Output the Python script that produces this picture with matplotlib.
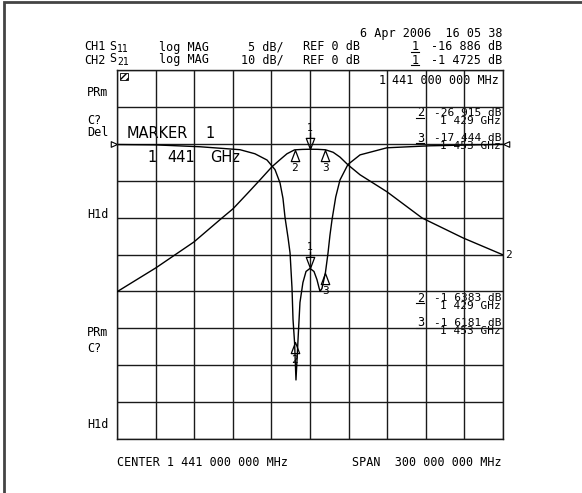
import matplotlib
matplotlib.use("Agg")
import matplotlib.pyplot as plt
import numpy as np
from matplotlib.path import Path
from matplotlib.patches import Rectangle

W, H = 582, 493

# instrument settings
f_center = 1.441   # GHz
f_span = 0.300     # GHz
s11_scale = 5      # dB/div
s21_scale = 10     # dB/div
ref_level = 0      # dB
ref_pos = 8        # reference line, divisions from bottom

# CH1: S11 (dB)
s11_freq = [1.291, 1.3213, 1.3555, 1.3866, 1.3982, 1.4076, 1.4138, 1.4177, 1.4200,
            1.4216, 1.4240, 1.4255, 1.4270, 1.4278, 1.4290, 1.4301, 1.4310, 1.4317,
            1.4332, 1.4355, 1.4379, 1.4410, 1.4441, 1.4464, 1.4480, 1.4488, 1.4503,
            1.4530, 1.4550, 1.4565, 1.4581, 1.4610, 1.4643, 1.4705, 1.4799, 1.5008,
            1.5343, 1.591]
s11_db = [-0.10, -0.15, -0.40, -0.80, -1.35, -2.2, -3.5, -5.3, -7.4,
          -10.0, -12.8, -14.8, -19.5, -23.8, -26.915, -32.0, -29.0, -26.5,
          -21.5, -18.8, -17.3, -16.886, -17.3, -18.4, -19.5, -20.0, -19.6,
          -17.444, -14.8, -12.4, -10.3, -7.2, -4.9, -2.8, -1.5, -0.54,
          -0.27, -0.07]

# CH2: S21 (dB)
s21_freq = [1.291, 1.3213, 1.3508, 1.3726, 1.3812, 1.3928, 1.4021, 1.4115, 1.4177,
            1.4231, 1.4290, 1.4350, 1.4410, 1.4470, 1.4530, 1.4590, 1.4643, 1.4705,
            1.4799, 1.5008, 1.5281, 1.5599, 1.591]
s21_db = [-40.1, -33.6, -26.6, -20.1, -17.6, -13.3, -9.8, -6.2, -4.3,
          -2.7, -1.6383, -1.52, -1.4725, -1.50, -1.6181, -2.3, -3.6, -5.7,
          -8.4, -13.0, -20.1, -25.5, -30.1]

# markers
marker_freq = [1.441, 1.429, 1.453]
marker_s11 = [-16.886, -26.915, -17.444]
marker_s21 = [-1.4725, -1.6383, -1.6181]

left_labels = [("PRm", 92), ("C?", 121), ("Del", 133), ("H1d", 214),
               ("PRm", 333), ("C?", 349), ("H1d", 424)]

MONO = "DejaVu Sans Mono"
plt.rcParams["font.family"] = MONO


def hp(v, nd):
    # HP plotter prints the decimal point as a blank
    return f"{v:.{nd}f}".replace(".", " ")


def grouped(v):
    return f"{v:,.0f}".replace(",", " ")


fig = plt.figure(figsize=(W / 100, H / 100), dpi=100)
bg = fig.add_axes([0, 0, 1, 1], zorder=0)
bg.set_xlim(0, W)
bg.set_ylim(H, 0)
bg.axis("off")

# page frame (left and top edges)
bg.plot([4, 4, W], [H, 2, 2], color="#444444", lw=2, solid_joinstyle="miter")

# graticule: 10 x 10 divisions
gx0, gx1, gy0, gy1 = 117, 503, 70, 439
ax = fig.add_axes([gx0 / W, 1 - gy1 / H, (gx1 - gx0) / W, (gy1 - gy0) / H], zorder=2)
ax.patch.set_alpha(0)
fmin, fmax = f_center - f_span / 2, f_center + f_span / 2
ax.set_xlim(fmin, fmax)
ax.set_ylim(ref_level - ref_pos * s11_scale, ref_level + (10 - ref_pos) * s11_scale)
ax.set_xticks(np.linspace(fmin, fmax, 11))
ax.set_yticks(np.linspace(*ax.get_ylim(), 11))
ax.grid(True, color="#1a1a1a", lw=1.0)
ax.tick_params(length=0, labelbottom=False, labelleft=False)
for s in ax.spines.values():
    s.set_color("#1a1a1a")
    s.set_linewidth(1.0)

ax2 = ax.twinx()
ax2.set_ylim(ref_level - ref_pos * s21_scale, ref_level + (10 - ref_pos) * s21_scale)
ax2.tick_params(length=0, labelright=False)
ax2.patch.set_alpha(0)
for s in ax2.spines.values():
    s.set_visible(False)

ax.plot(s11_freq, s11_db, color="black", lw=1.0)
ax2.plot(s21_freq, s21_db, color="black", lw=1.0)

# marker symbols
tri_up = Path([(0, 0), (-0.38, -1), (0.38, -1), (0, 0)],
              [Path.MOVETO, Path.LINETO, Path.LINETO, Path.CLOSEPOLY])
tri_down = Path([(0, 0), (-0.38, 1), (0.38, 1), (0, 0), (0, 1), (0, 1.5)],
                [Path.MOVETO, Path.LINETO, Path.LINETO, Path.CLOSEPOLY, Path.MOVETO, Path.LINETO])
for a, vals in ((ax, marker_s11), (ax2, marker_s21)):
    for i, (f, v) in enumerate(zip(marker_freq, vals)):
        if i == 0:
            a.plot(f, v, marker=tri_down, ms=24, mfc="none", mec="black", mew=0.9)
            a.annotate("1", (f, v), xytext=(0, 21), textcoords="offset pixels",
                       ha="center", va="center", fontsize=7)
        else:
            a.plot(f, v, marker=tri_up, ms=16, mfc="none", mec="black", mew=0.9)
            a.annotate(str(i + 1), (f, v), xytext=(0, -18), textcoords="offset pixels",
                       ha="center", va="center", fontsize=8)

# reference level arrows
arr_r = Path([(0, 0), (-1, 0.45), (-1, -0.45), (0, 0)],
             [Path.MOVETO, Path.LINETO, Path.LINETO, Path.CLOSEPOLY])
arr_l = Path([(0, 0), (1, 0.45), (1, -0.45), (0, 0)],
             [Path.MOVETO, Path.LINETO, Path.LINETO, Path.CLOSEPOLY])
ax.plot(fmin, ref_level, marker=arr_r, ms=9, mfc="none", mec="black", mew=0.8, clip_on=False)
ax2.plot(fmax, ref_level, marker=arr_l, ms=9, mfc="none", mec="black", mew=0.8, clip_on=False)
ax2.annotate("2", (s21_freq[-1], s21_db[-1]), xytext=(5, 0), textcoords="offset pixels",
             ha="center", va="center", fontsize=8)

fs = 8.5
# header
bg.text(502, 33, "6 Apr 2006  16 05 38", ha="right", va="center", fontsize=fs)
for y, ch, sub, scale, mval, nd in ((47, "CH1", "11", s11_scale, marker_s11[0], 3),
                                    (60, "CH2", "21", s21_scale, marker_s21[0], 4)):
    bg.text(84, y, ch, ha="left", va="center", fontsize=fs)
    bg.text(109, y - 1, "S", ha="left", va="center", fontsize=fs)
    bg.text(117, y + 2, sub, ha="left", va="center", fontsize=7)
    bg.text(159, y, "log MAG", ha="left", va="center", fontsize=fs)
    bg.text(284, y, f"{scale} dB/", ha="right", va="center", fontsize=fs)
    bg.text(303, y, f"REF {ref_level} dB", ha="left", va="center", fontsize=fs)
    bg.text(412, y, "1", ha="left", va="center", fontsize=fs)
    bg.plot([411, 419], [y + 5, y + 5], color="black", lw=0.8)
    bg.text(502, y, f"{hp(mval, nd)} dB", ha="right", va="center", fontsize=fs)

for txt, y in left_labels:
    bg.text(87, y, txt, ha="left", va="center", fontsize=fs)

# stimulus readout inside graticule
stim = grouped(marker_freq[0] * 1e9).split(" ", 1)
bg.text(379, 80, stim[0], ha="left", va="center", fontsize=fs)
bg.text(499, 80, stim[1] + " MHz", ha="right", va="center", fontsize=fs)

# marker readouts
for base_y, vals, nd in ((117, marker_s11, 3), (302, marker_s21, 4)):
    for k, i in enumerate((1, 2)):
        y = base_y + 25 * k
        bg.text(417, y - 4, str(i + 1), ha="left", va="center", fontsize=fs)
        bg.plot([416, 424], [y + 1, y + 1], color="black", lw=0.8)
        bg.text(501, y, f"{hp(vals[i], nd)} dB\n{grouped(marker_freq[i] * 1000)} GHz",
                ha="right", va="center", multialignment="right", fontsize=8,
                linespacing=0.8)

# active marker annotation
mk = dict(ha="left", va="center", fontsize=10.5, family="DejaVu Sans")
bg.text(127, 133, "MARKER", **mk)
bg.text(205, 133, "1", **mk)
mf = grouped(marker_freq[0] * 1000).split()
bg.text(147, 157, mf[0], **mk)
bg.text(167, 157, mf[1], **mk)
bg.text(210, 157, "GHz", **mk)

# small hatched status box
bg.add_patch(Rectangle((120, 73), 8, 7, fill=False, hatch="/////", lw=0.6, ec="black"))

# footer
bg.text(117, 462, f"CENTER {grouped(f_center * 1e9)} MHz", ha="left", va="center", fontsize=fs)
bg.text(502, 462, f"SPAN  {grouped(f_span * 1e9)} MHz", ha="right", va="center", fontsize=fs)

fig.savefig("out.png", dpi=100)
